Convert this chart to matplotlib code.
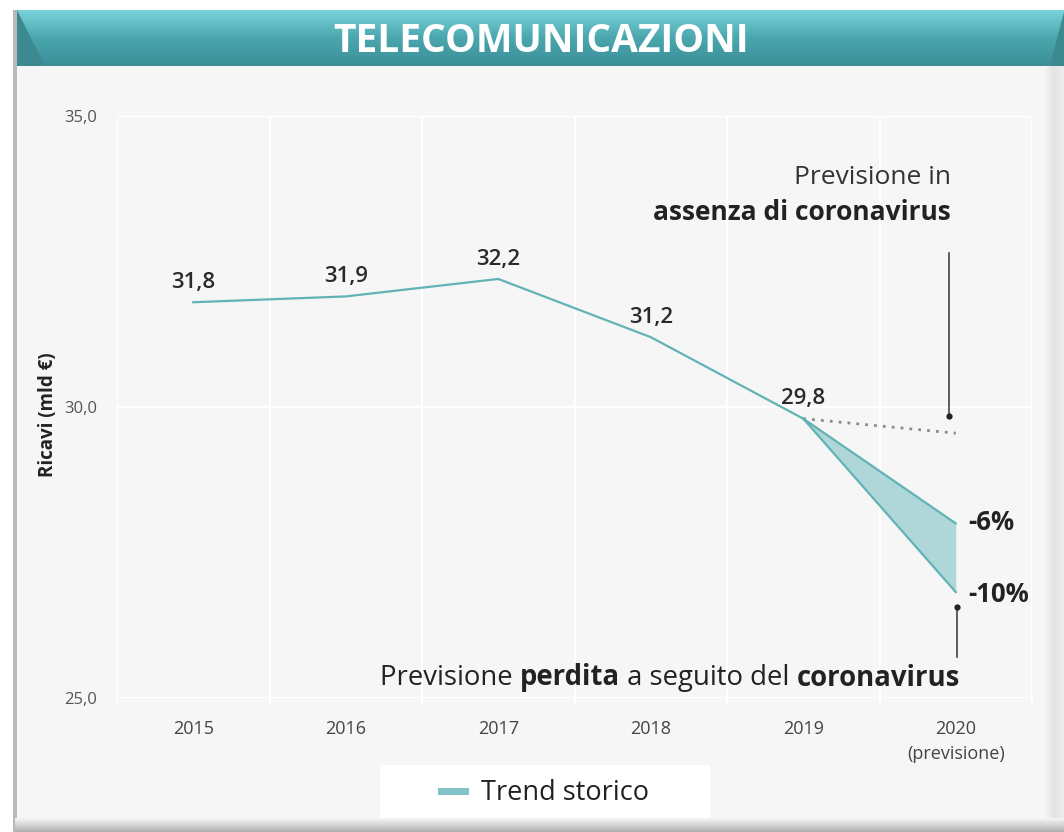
import matplotlib
matplotlib.use("Agg")
import matplotlib.pyplot as plt
import numpy as np
from matplotlib.patches import Rectangle, Polygon
from matplotlib.lines import Line2D
from matplotlib.colors import LinearSegmentedColormap

plt.rcParams['font.family'] = ['Open Sans', 'DejaVu Sans']

# dati
anni = ["2015", "2016", "2017", "2018", "2019", "2020\n(previsione)"]
storico = [31.8, 31.9, 32.2, 31.2, 29.8]
etichette = ["31,8", "31,9", "32,2", "31,2", "29,8"]
prev_no_covid = [29.8, 29.55]
prev_meno6 = [29.8, 28.0]
prev_meno10 = [29.8, 26.82]
yticks = [25, 30, 35]
ytick_lab = ["25,0", "30,0", "35,0"]

W, H = 1064, 832
fig = plt.figure(figsize=(W / 100, H / 100), dpi=100)
fig.patch.set_facecolor("white")

# sfondo / cornice
bg = fig.add_axes([0, 0, 1, 1], zorder=-5)
bg.add_patch(Rectangle((15, 10), W - 15, H - 10, facecolor="#f6f6f6", edgecolor="none"))
bg.add_patch(Rectangle((13, 10), 4, H - 10, facecolor="#b9b9b9", edgecolor="none"))
grad_r = np.linspace(0, 1, 50).reshape(1, -1)
bg.imshow(grad_r, extent=(1044, W, H, 60), cmap=LinearSegmentedColormap.from_list(
    "sr", ["#f6f6f6", "#e4e4e4", "#eeeeee"]), aspect="auto", zorder=1)
# ombra in basso
grad_b = np.linspace(0, 1, 50).reshape(-1, 1)
bg.imshow(grad_b, extent=(15, W, H, 818), cmap=LinearSegmentedColormap.from_list(
    "sh", ["#f6f6f6", "#b0b0b0"]), aspect="auto", zorder=1)
# banner titolo
grad_t = np.linspace(0, 1, 100).reshape(-1, 1)
cm_t = LinearSegmentedColormap.from_list("tt", ["#7ad3da", "#4aa6ae", "#3b8f97"])
bg.imshow(grad_t, extent=(17, W, 66, 10), cmap=cm_t, aspect="auto", zorder=2)
bg.add_patch(Polygon([(17, 10), (17, 66), (45, 66)], closed=True, facecolor="#3d8990", edgecolor="none", zorder=3))
bg.add_patch(Polygon([(W, 12), (W, 66), (1050, 66)], closed=True, facecolor="#3d8990", edgecolor="none", zorder=3))
bg.set_xlim(0, W)
bg.set_ylim(H, 0)
bg.axis("off")
bg.text(541, 41, "TELECOMUNICAZIONI", color="white", fontsize=28, fontweight="bold",
        ha="center", va="center", zorder=4)
# box legenda
bg.add_patch(Rectangle((380, 765), 330, 53, facecolor="white", edgecolor="none", zorder=2))

# grafico
ax = fig.add_axes([117 / W, 1 - 698 / H, 915 / W, 582 / H])
ax.set_facecolor("#f6f6f6")
x = np.arange(len(anni))
ax.set_xlim(-0.5, 5.5)
ax.set_ylim(25, 35)

teal = "#62b2b6"
ax.plot(x[:5], storico, color=teal, lw=1.6, zorder=3)
ax.plot(x[4:], prev_no_covid, color="#8a8a8a", lw=2, ls=(0, (1, 2.2)), zorder=3)
ax.fill_between(x[4:], prev_meno10, prev_meno6, color="#a8d4d6", alpha=0.9, lw=0, zorder=2)
ax.plot(x[4:], prev_meno6, color=teal, lw=1.6, zorder=3)
ax.plot(x[4:], prev_meno10, color=teal, lw=1.6, zorder=3)

for xi, v, t in zip(x, storico, etichette):
    ax.text(xi, v + 0.16, t, ha="center", va="bottom", fontsize=16, fontweight="semibold", color="#2a2a2a")

ax.text(5.08, prev_meno6[1] + 0.02, "-6%", ha="left", va="center", fontsize=18.5, fontweight="bold", color="#222222")
ax.text(5.08, prev_meno10[1] - 0.05, "-10%", ha="left", va="center", fontsize=18.5, fontweight="bold", color="#222222")

# frecce annotazioni
ax.plot([4.955, 4.955], [32.65, 29.85], color="#444444", lw=1.2, zorder=4)
ax.plot([4.955], [29.85], marker="o", ms=3.5, color="#222222", zorder=4)
ax.plot([5.01, 5.01], [25.7, 26.56], color="#444444", lw=1.2, zorder=4)
ax.plot([5.01], [26.56], marker="o", ms=3.5, color="#222222", zorder=4)

ax.text(4.97, 33.95, "Previsione in", ha="right", va="center", fontsize=19, color="#333333")
ax.text(4.97, 33.35, "assenza di coronavirus", ha="right", va="center", fontsize=19, fontweight="bold", color="#222222")

# testo misto normale/grassetto
pezzi = [("Previsione ", "normal"), ("perdita", "bold"), (" a seguito del ", "normal"), ("coronavirus", "bold")]
fig.canvas.draw()
r = fig.canvas.get_renderer()
px = 380
py = H - 678
for s, w in pezzi:
    t = fig.text(px / W, py / H, s, fontsize=19.8, fontweight=w, color="#222222", ha="left", va="center")
    bb = t.get_window_extent(renderer=r)
    px += bb.width

ax.set_xticks(x)
ax.set_xticklabels(anni, fontsize=13, color="#444444", linespacing=1.45)
ax.set_xticks(np.arange(-0.5, 6, 1), minor=True)
ax.set_yticks(yticks)
ax.set_yticklabels(ytick_lab, fontsize=12, color="#555555")
ax.tick_params(axis="x", which="major", length=0, pad=16)
ax.tick_params(axis="x", which="minor", length=5, color="white", width=1.5)
ax.tick_params(axis="y", length=0, pad=14.5)
ax.grid(axis="x", which="minor", color="white", lw=1.5)
ax.grid(axis="y", which="major", color="white", lw=1.5)
for s in ax.spines.values():
    s.set_visible(False)
ax.set_ylabel("Ricavi (mld €)", fontsize=13.5, fontweight="bold", color="#222222")
ax.yaxis.set_label_coords(-0.0645, 0.486)

h = Line2D([], [], color="#7fc3c6", lw=5)
fig.legend([h], ["Trend storico"], loc="center", bbox_to_anchor=(545 / W, 1 - 793 / H),
           frameon=False, fontsize=19.5, handlelength=0.9, handletextpad=0.6, labelcolor="#222222")

fig.savefig("out.png", dpi=100, facecolor=fig.get_facecolor())
